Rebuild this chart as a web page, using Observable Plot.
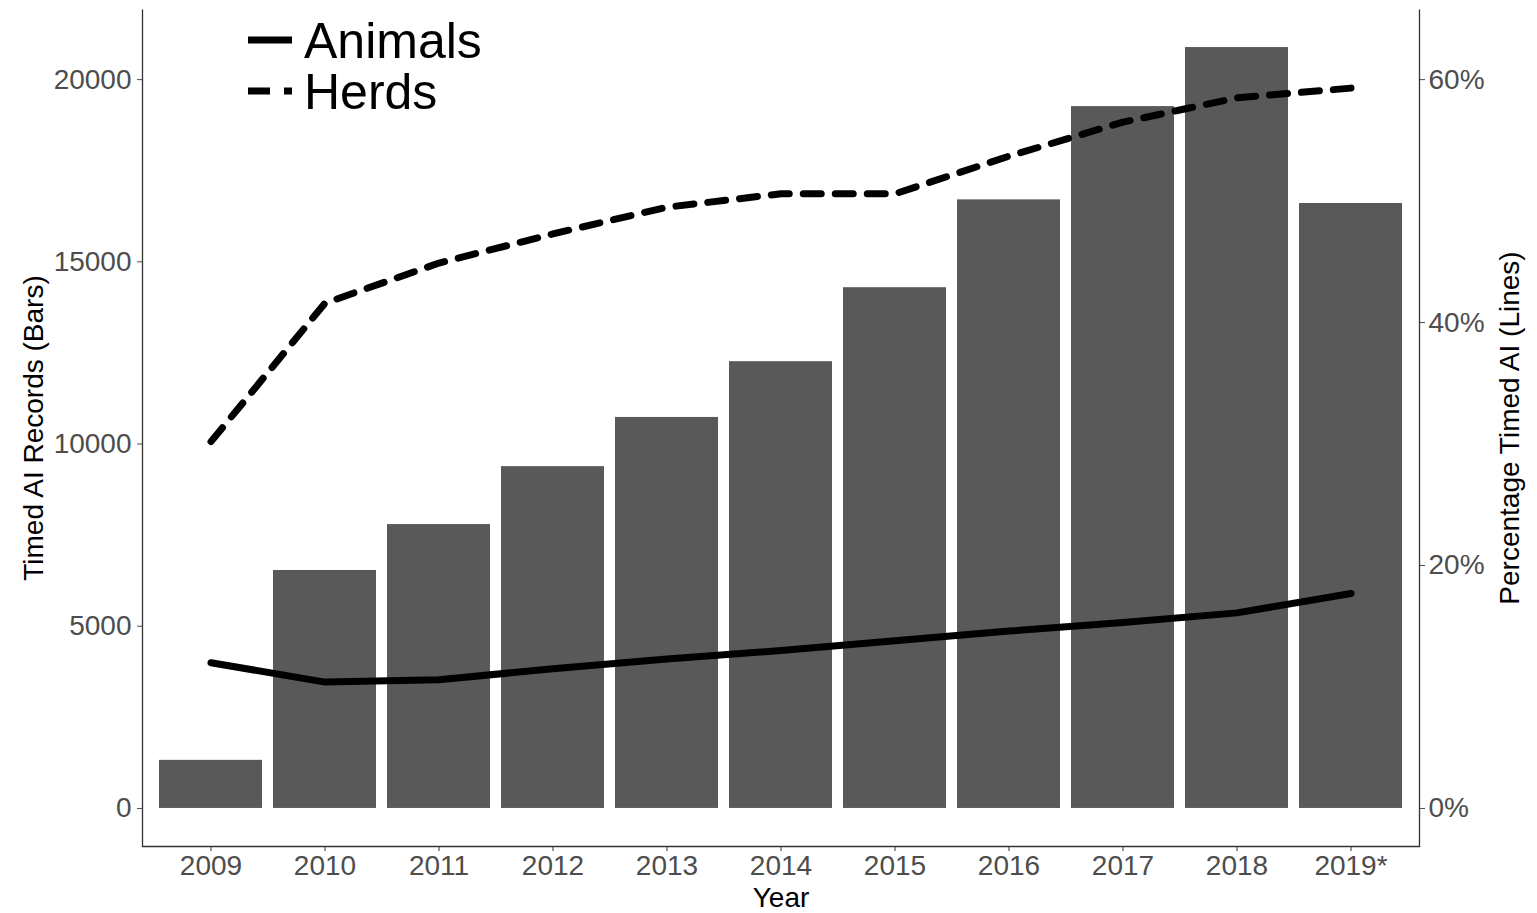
<!DOCTYPE html>
<html>
<head>
<meta charset="utf-8">
<script src="https://cdn.jsdelivr.net/npm/d3@7"></script>
<script src="https://cdn.jsdelivr.net/npm/@observablehq/plot@0.6"></script>
<style>
  html, body { margin: 0; padding: 0; background: #fff; }
  #wrap { position: relative; width: 1537px; height: 913px; font-family: "Liberation Sans", Arial, sans-serif; }
  #legend { position: absolute; left: 0; top: 0; }
</style>
</head>
<body>
<div id="wrap"></div>
<script>
// ---- data ----
const years = ["2009", "2010", "2011", "2012", "2013", "2014", "2015", "2016", "2017", "2018", "2019*"];
const records = [1320, 6530, 7790, 9380, 10730, 12260, 14290, 16700, 19260, 20880, 16600];
const animalsPct = [12.0, 10.4, 10.6, 11.5, 12.3, 13.0, 13.8, 14.6, 15.3, 16.1, 17.7];
const herdsPct = [30.2, 41.6, 44.9, 47.3, 49.5, 50.6, 50.6, 53.7, 56.5, 58.5, 59.3];
const leftTicks = [0, 5000, 10000, 15000, 20000];
const rightTicks = [0, 20, 40, 60];
const seriesNames = ["Animals", "Herds"];

// secondary axis: 60% maps to 20000 records
const k = 20000 / 60;

const bars = years.map((y, i) => ({year: y, records: records[i]}));
const animals = years.map((y, i) => ({year: y, v: animalsPct[i] * k}));
const herds = years.map((y, i) => ({year: y, v: herdsPct[i] * k}));

const W = 1537, H = 913;
const mL = 142, mR = 118, mT = 9, mB = 67;
const pw = W - mL - mR, ph = H - mT - mB;

const ymax = Math.max(...records, ...herdsPct.map(p => p * k), ...animalsPct.map(p => p * k));
const ymin = 0;
const ex = (ymax - ymin) * 0.05;

const tickColor = "#4d4d4d";

const chart = Plot.plot({
  width: W,
  height: H,
  marginLeft: mL,
  marginRight: mR,
  marginTop: mT,
  marginBottom: mB,
  style: {fontFamily: "'Liberation Sans', Arial, sans-serif", background: "#fff"},
  x: {domain: years, type: "band", paddingInner: 0.1, paddingOuter: 0.15},
  y: {domain: [ymin - ex, ymax + ex]},
  marks: [
    Plot.barY(bars, {x: "year", y: "records", fill: "#595959"}),
    Plot.lineY(animals, {x: "year", y: "v", stroke: "#000", strokeWidth: 7, strokeLinejoin: "round"}),
    Plot.lineY(herds, {x: "year", y: "v", stroke: "#000", strokeWidth: 7, strokeDasharray: "18 14", strokeLinejoin: "round"}),
    Plot.frame({stroke: "#333", strokeWidth: 1.3, strokeDasharray: `0 ${pw} ${2 * ph + pw}`}),
    Plot.axisX({tickSize: 5, tickPadding: 4, fontSize: 28, color: tickColor, stroke: "#333",
      label: "Year", labelAnchor: "center", labelOffset: 60, labelArrow: false}),
    Plot.axisY({anchor: "left", ticks: leftTicks, tickSize: 5, tickPadding: 6, fontSize: 28, color: tickColor,
      tickFormat: d => String(d), label: "Timed AI Records (Bars)", labelAnchor: "center", labelOffset: 119, labelArrow: false}),
    Plot.axisY({anchor: "right", ticks: rightTicks.map(p => p * k), tickSize: 5, tickPadding: 4, fontSize: 28, color: tickColor,
      tickFormat: d => Math.round(d / k) + "%", label: "Percentage Timed AI (Lines)", labelAnchor: "center", labelOffset: 99, labelArrow: false})
  ]
});

const wrap = document.getElementById("wrap");
wrap.appendChild(chart);

// axis titles in black, without arrows
d3.select(chart)
  .selectAll("g[aria-label='x-axis label'] text, g[aria-label='y-axis label'] text")
  .attr("fill", "#000")
  .each(function() {
    const t = this.textContent.replace(/[\u2190-\u2193]/g, "").trim();
    this.textContent = t;
  });

// ---- legend ----
const leg = d3.select(wrap).append("svg")
  .attr("id", "legend")
  .attr("width", 500).attr("height", 130);
const dashes = [null, "22 14"];
seriesNames.forEach((name, i) => {
  const g = leg.append("g").attr("transform", `translate(248, ${40 + i * 51})`);
  g.append("line").attr("x1", 0).attr("x2", 44).attr("y1", 0).attr("y2", 0)
    .attr("stroke", "#000").attr("stroke-width", 7)
    .attr("stroke-dasharray", dashes[i]);
  g.append("text").attr("x", 56).attr("y", 18)
    .attr("font-size", 50).attr("fill", "#000")
    .attr("font-family", "'Liberation Sans', Arial, sans-serif")
    .text(name);
});
</script>
</body>
</html>
